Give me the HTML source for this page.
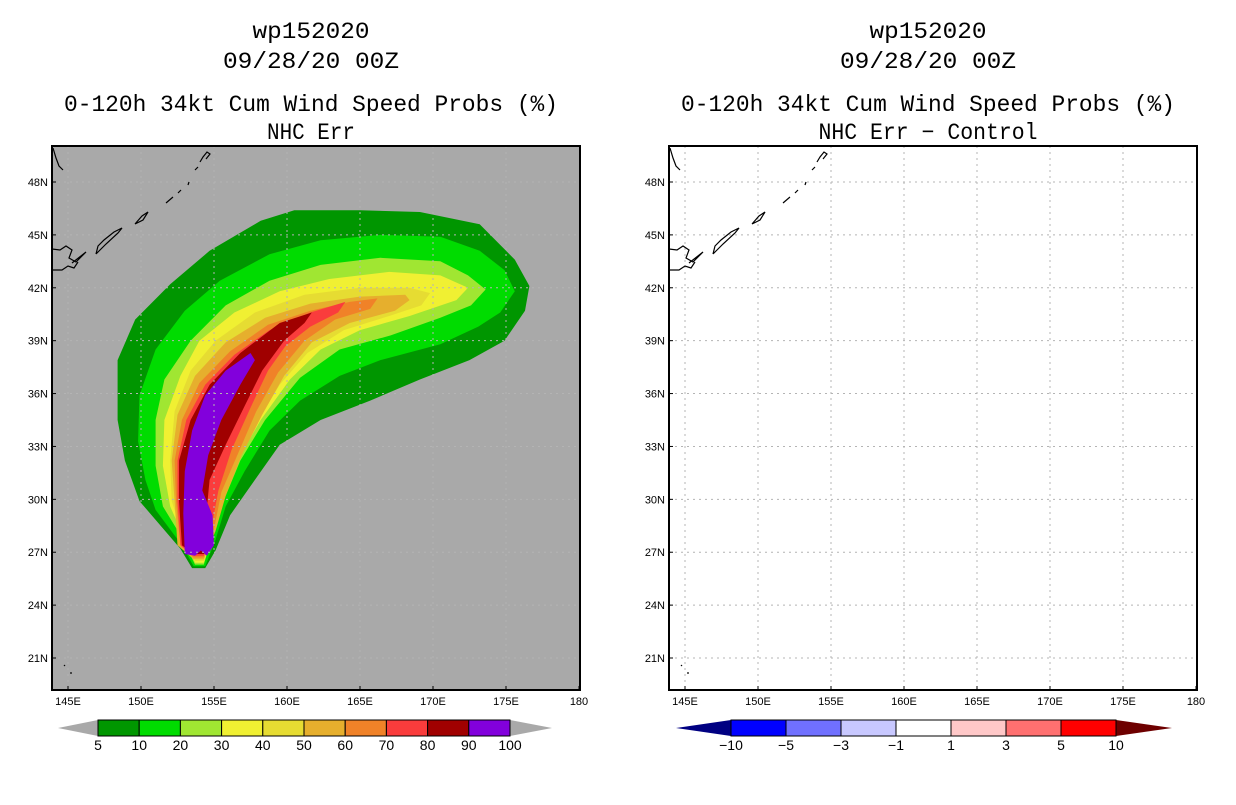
<!DOCTYPE html>
<html><head><meta charset="utf-8">
<style>
body{margin:0;background:#fff;width:1236px;height:800px;overflow:hidden;font-family:"Liberation Sans",sans-serif}
svg text{font-family:"Liberation Sans",sans-serif}
svg text.ttl{font-family:"Liberation Mono",monospace}
</style></head><body>
<svg id="fig" width="1236" height="800" xmlns="http://www.w3.org/2000/svg">
<g id="left"></g>
<g id="right"></g>
</svg>
<script>
const lonTicks=[145,150,155,160,165,170,175,180];
const lonLabels=["145E","150E","155E","160E","165E","170E","175E","180"];
const latTicks=[48,45,42,39,36,33,30,27,24,21];
const latLabels=["48N","45N","42N","39N","36N","33N","30N","27N","24N","21N"];
const probLevels=[5,10,20,30,40,50,60,70,80,90,100];
const probColors=["#009600","#00dc00","#a0e632","#f0f032","#e6dc32","#e6af2d","#f08228","#fa3c3c","#a00000","#8200dc"];
const diffLevels=["-10","-5","-3","-1","1","3","5","10"];
const diffColors=["#000082","#0000ff","#7070ff","#c8c8ff","#ffffff","#ffc8c8","#ff7070","#ff0000","#6e0000"];
// contour polygons [lon,lat]
const c5=[[152.7,27.2],[149.9,29.9],[148.9,32.2],[148.4,34.5],[148.4,37.9],[149.6,40.2],[152,42.2],[154.7,44.1],[158.2,45.8],[160.5,46.4],[165,46.4],[169.1,46.3],[173.2,45.6],[175.6,43.6],[176.6,42.1],[176.3,40.7],[174.9,39],[172.5,37.9],[169.1,36.8],[165.7,35.6],[162.3,34.5],[159.5,33.1],[157.8,31.1],[156.1,29.1],[155.1,27.1],[154.4,26.1],[153.5,26.1]];
const c10=[[152.8,27.4],[151,29.4],[150.3,31.1],[149.8,33.3],[149.9,35.9],[151,38.5],[153,40.7],[155.4,42.4],[158.8,43.9],[162.3,44.7],[166.4,45],[170.5,44.9],[173.2,44.1],[174.9,43],[175.6,41.8],[174.6,40.6],[173.1,39.8],[170.5,38.8],[166.4,37.9],[163.6,37],[160.9,35.6],[158.8,33.9],[157.1,31.6],[155.8,29.6],[155.1,27.7],[154.4,26.2],[153.6,26.2]];
const c20=[[152.9,27.7],[151.5,29.6],[151,31.9],[151,34.5],[151.6,36.8],[153.4,39],[155.8,41],[158.8,42.4],[162.3,43.3],[166.4,43.7],[170.5,43.5],[172.4,42.7],[173.6,41.9],[172.6,41],[170.5,40.3],[167.1,39.3],[163.6,38.5],[160.9,36.9],[158.5,34.5],[156.8,32.2],[155.8,30.2],[155.1,28.5],[154.7,27.4],[154.3,26.3],[153.7,26.3]];
const c30=[[153,27.7],[152,29.6],[151.5,31.9],[151.6,34.5],[152.7,37],[154,39],[156.4,40.6],[159.5,41.8],[162.9,42.5],[167,42.9],[170.5,42.7],[172.4,42],[171.6,41.3],[168.4,40.4],[165,39.6],[162.3,38.5],[160.2,36.8],[158.2,34.5],[156.6,32.2],[155.5,29.9],[154.9,27.9],[154.3,26.4],[153.7,26.4]];
const c40=[[153,27.6],[152.1,29.9],[152,32.2],[152.3,35],[153.4,37.3],[155.1,39],[157.8,40.6],[161.2,41.6],[165,42],[168.4,42],[169.8,41.7],[169.2,41],[167,40.4],[163.9,39.6],[161.4,38.3],[159.5,36.5],[157.8,34.2],[156.4,31.9],[155.4,29.6],[154.9,27.9],[154.3,26.5],[153.7,26.5]];
const c50=[[152.5,27.4],[152.3,29.9],[152.1,32.2],[152.5,34.8],[153.7,37],[155.8,38.9],[158.5,40.3],[161.6,41.1],[165,41.5],[168.1,41.6],[168.4,41.3],[167.4,40.7],[164.3,40],[161.7,38.9],[159.8,37],[158.3,34.8],[156.9,32.5],[155.8,30.2],[155.1,28.2],[154.3,26.6],[153.6,26.6]];
const c60=[[152.7,27.4],[152.4,29.9],[152.3,32.2],[152.8,34.5],[154,36.6],[156.1,38.4],[158.7,39.9],[161.6,40.7],[164.3,41.2],[166.2,41.4],[165.7,40.8],[163.3,40.2],[161.2,39],[159.4,37.2],[157.9,35],[156.7,32.7],[155.5,30.4],[155,28.3],[154.3,26.7],[153.6,26.7]];
const c70=[[152.7,27.4],[152.5,29.9],[152.5,32.2],[153.1,34.5],[154.4,36.5],[156.4,38.2],[158.8,39.6],[161.6,40.6],[164,41.2],[163.5,40.6],[161.6,39.8],[159.9,38.7],[158.7,37.3],[157.5,35.2],[156.2,32.8],[155.3,30.5],[154.8,28.3],[154.3,26.8],[153.6,26.8]];
const c80=[[152.8,27.4],[152.6,29.9],[152.6,32.2],[153.4,34.5],[154.7,36.5],[156.8,38.3],[159.5,40],[161.7,40.6],[161.2,40],[159.8,39],[158.3,37.3],[157.1,35.3],[155.8,33.1],[154.7,31.1],[154.5,29.4],[155,27.7],[154.3,26.9],[153.6,26.9]];
const c90=[[153,26.9],[152.9,29.2],[153,31.6],[153.5,33.9],[154.4,35.9],[155.8,37.3],[157.5,38.3],[157.8,37.9],[156.8,36.5],[155.5,34.5],[154.6,32.5],[154.2,30.5],[154.9,29.1],[155,27.4],[154.5,26.8],[154.1,27.1],[153.7,26.8]];
const contours=[c5,c10,c20,c30,c40,c50,c60,c70,c80,c90];

const NS="http://www.w3.org/2000/svg";
function mk(tag,attrs,parent){const e=document.createElementNS(NS,tag);for(const k in attrs)e.setAttribute(k,attrs[k]);parent.appendChild(e);return e;}
const PX0=52,PX1=580,PY0=146,PY1=690;
function xS(lon,off){return off+68+(lon-145)*14.6;}
function yS(lat){return 182+(48-lat)*17.63;}

function panel(g,off,bg,filled,titleLast,lastLen){
  const cx=off+311;
  const t=[["wp152020",30,117],["09/28/20 00Z",60,176],["0-120h 34kt Cum Wind Speed Probs (%)",103,494],[titleLast,131,lastLen]];
  t.forEach((r,i)=>{const at={x:cx,y:r[1]+8,'text-anchor':'middle','font-size':'23',fill:'#000','class':'ttl',textLength:r[2],lengthAdjust:'spacingAndGlyphs'};
    const e=mk('text',at,g);e.textContent=r[0];
    
    });
  const bgR=mk('rect',{x:off+PX0,y:PY0,width:PX1-PX0,height:PY1-PY0,fill:bg},g);
  
  
  const cp='clip'+off;
  const cl=mk('clipPath',{id:cp},g);mk('rect',{x:off+PX0,y:PY0,width:PX1-PX0,height:PY1-PY0},cl);
  const mg=mk('g',{'clip-path':'url(#'+cp+')'},g);
  if(filled){contours.forEach((c,i)=>{const p=mk('polygon',{points:c.map(q=>xS(q[0],off).toFixed(1)+','+yS(q[1]).toFixed(1)).join(' '),fill:probColors[i]},mg);
    
    });}
  lonTicks.forEach(l=>{if(l<180)mk('line',{x1:xS(l,off),x2:xS(l,off),y1:PY0,y2:PY1,stroke:'#b4b4b4','stroke-dasharray':'2,4','stroke-width':1},mg);});
  latTicks.forEach(l=>mk('line',{x1:off+PX0,x2:off+PX1,y1:yS(l),y2:yS(l),stroke:'#b4b4b4','stroke-dasharray':'2,4','stroke-width':1},mg));
  const coast=[[[53,148],[56,158],[59,166],[63,170]],[[52,249],[60,250],[66,246],[72,250],[69,258],[76,262],[82,256],[86,252],[72,263]],[[52,270],[62,270],[68,266],[74,268],[78,262]],[[96,254],[98,246],[104,240],[114,232],[122,228],[118,233],[106,244],[96,254]],[[135,224],[142,216],[148,212],[143,220],[135,224]],[[166,203],[173,197]],[[178,193],[181,190]],[[188,185],[189,182]],[[195,170],[198,167]],[[200,162],[203,157],[207,152],[210,154],[206,159]],[[64,665],[65,666]],[[70,673],[72,673]]];
  coast.forEach(c=>mk('polyline',{points:c.map(q=>(q[0]+off)+','+q[1]).join(' '),fill:'none',stroke:'#000','stroke-width':1.2},mg));
  const fr=mk('rect',{x:off+PX0,y:PY0,width:PX1-PX0,height:PY1-PY0,fill:'none',stroke:'#000','stroke-width':2},g);
  
  
  lonTicks.forEach((l,i)=>{const x=xS(l,off);
    mk('line',{x1:x,x2:x,y1:PY1,y2:PY1-4,stroke:'#000'},g);
    const e=mk('text',{x:x,y:PY1+15,'text-anchor':'middle','font-size':'11',fill:'#000'},g);e.textContent=lonLabels[i];
    
    });
  latTicks.forEach((l,i)=>{const y=yS(l);
    mk('line',{x1:off+PX0,x2:off+PX0+4,y1:y,y2:y,stroke:'#000'},g);
    const e=mk('text',{x:off+48,y:y+4,'text-anchor':'end','font-size':'11',fill:'#000'},g);e.textContent=latLabels[i];
    
    });
}
panel(document.getElementById('left'),0,'#a9a9a9',true,'NHC Err',88);
panel(document.getElementById('right'),617,'#ffffff',false,'NHC Err \u2212 Control',219);

(function(){
  const g=document.getElementById('left');const y0=720,h=16,x0=98,w=41.2;
  const lt=mk('polygon',{points:`58,${y0+h/2} ${x0},${y0} ${x0},${y0+h}`,fill:'#a9a9a9'},g);
  
  
  const rt=mk('polygon',{points:`552,${y0+h/2} ${x0+10*w},${y0} ${x0+10*w},${y0+h}`,fill:'#a9a9a9'},g);
  
  
  probColors.forEach((c,i)=>{const r=mk('rect',{x:x0+i*w,y:y0,width:w,height:h,fill:c,stroke:'#000','stroke-width':1},g);
    
    });
  probLevels.forEach((v,i)=>{const e=mk('text',{x:x0+i*w,y:y0+h+14,'text-anchor':'middle','font-size':'14',fill:'#000'},g);e.textContent=v;
    
    });
})();
(function(){
  const g=document.getElementById('right');const y0=720,h=16,x0=731,w=55;
  const lt=mk('polygon',{points:`676,${y0+h/2} ${x0},${y0} ${x0},${y0+h}`,fill:diffColors[0]},g);
  
  
  const rt=mk('polygon',{points:`1172,${y0+h/2} ${x0+7*w},${y0} ${x0+7*w},${y0+h}`,fill:diffColors[8]},g);
  
  
  for(let i=1;i<8;i++){const r=mk('rect',{x:x0+(i-1)*w,y:y0,width:w,height:h,fill:diffColors[i],stroke:'#000','stroke-width':1},g);
    
    }
  diffLevels.forEach((v,i)=>{const e=mk('text',{x:x0+i*w,y:y0+h+14,'text-anchor':'middle','font-size':'14',fill:'#000'},g);e.textContent=v.replace('-','\u2212');
    
    });
})();
</script>
</body></html>
